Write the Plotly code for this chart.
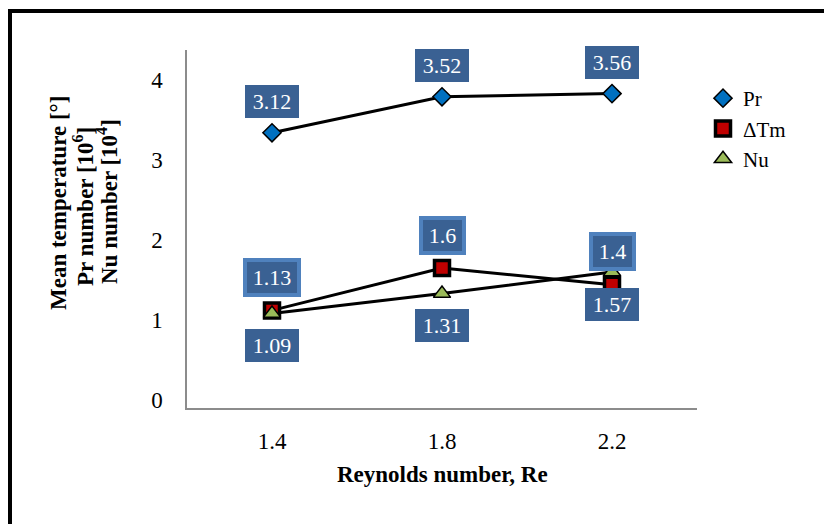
import plotly.graph_objects as go

# ---- data ----
categories = ["1.4", "1.8", "2.2"]
pr_values = [3.34, 3.79, 3.83]
dtm_values = [1.12, 1.65, 1.44]
nu_values = [1.08, 1.33, 1.60]
pr_labels = ["3.12", "3.52", "3.56"]
dtm_labels = ["1.13", "1.6", "1.4"]
nu_labels = ["1.09", "1.31", "1.57"]
y_ticks = [0, 1, 2, 3, 4]
y_title_lines = ["Mean temperature [°]", "Pr number [10<sup>6</sup>]", "Nu number [10<sup>4</sup>]"]
x_title = "Reynolds number, Re"

FONT = "Liberation Serif, Times New Roman, serif"
FS = 23
BOX = "#3A6193"
LIGHT = "#4F81BD"

# page body margin offset (8px)
OFF = 8
# plot area in page pixels
L, R, T, B = 187, 697, 50, 408
W, H = 832 - OFF, 524 - OFF
def px(x):
    return (x - L) / (R - L)
def py(y):
    return (B - y) / (B - T)

fig = go.Figure()

# lines (no legend)
for vals in (pr_values, dtm_values, nu_values):
    fig.add_trace(go.Scatter(x=categories, y=vals, mode="lines",
                             line=dict(color="black", width=3),
                             showlegend=False, hoverinfo="skip"))

# markers
fig.add_trace(go.Scatter(x=categories, y=pr_values, mode="markers", name="Pr",
                         marker=dict(symbol="diamond", size=14, color="#0070C0",
                                     line=dict(color="black", width=1.5))))
fig.add_trace(go.Scatter(x=categories, y=dtm_values, mode="markers", name="ΔTm",
                         marker=dict(symbol="square", size=15, color="#C00000",
                                     line=dict(color="black", width=3.5))))
fig.add_trace(go.Scatter(x=categories, y=nu_values, mode="markers", name="Nu",
                         marker=dict(symbol="triangle-up", size=15, color="#9BBB59",
                                     line=dict(color="black", width=1.5))))

annotations = []
def label(i, y, text, shift, light):
    if light:
        w = 50 if len(text) >= 4 else 39
        annotations.append(dict(x=i, y=y, xref="x", yref="y", text=text, showarrow=False,
                                yshift=shift, bgcolor=BOX, bordercolor=LIGHT, borderwidth=4,
                                borderpad=0, width=w, height=31,
                                font=dict(family=FONT, size=FS - 1, color="white")))
    else:
        annotations.append(dict(x=i, y=y, xref="x", yref="y", text=text, showarrow=False,
                                yshift=shift, bgcolor=BOX, borderwidth=0, borderpad=0,
                                width=54, height=33,
                                font=dict(family=FONT, size=FS - 1, color="white")))

for i, (v, t) in enumerate(zip(pr_values, pr_labels)):
    label(i, v, t, 31, False)
for i, (v, t) in enumerate(zip(dtm_values, dtm_labels)):
    label(i, v, t, 33, True)
for i, (v, t) in enumerate(zip(nu_values, nu_labels)):
    label(i, v, t, -32, False)

# axis titles
annotations.append(dict(x=0.5, y=py(475), xref="paper", yref="paper",
                        text="<b>" + x_title + "</b>", showarrow=False,
                        xanchor="center", yanchor="middle",
                        font=dict(family=FONT, size=FS, color="black")))
for xc, yc, line in zip([58, 83, 107], [203, 207, 202], y_title_lines):
    annotations.append(dict(x=px(xc), y=py(yc), xref="paper", yref="paper",
                            text="<b>" + line + "</b>",
                            showarrow=False, textangle=-90, xanchor="center", yanchor="middle",
                            font=dict(family=FONT, size=FS, color="black")))

shapes = [
    dict(type="line", xref="paper", yref="paper", x0=px(9.5), x1=px(9.5),
         y0=py(11), y1=py(560), line=dict(color="black", width=5)),
    dict(type="line", xref="paper", yref="paper", x0=px(7), x1=px(870),
         y0=py(11), y1=py(11), line=dict(color="black", width=4)),
]

fig.update_layout(
    width=W, height=H,
    margin=dict(l=L - OFF, r=832 - R, t=T - OFF, b=524 - B, autoexpand=False),
    paper_bgcolor="white", plot_bgcolor="white",
    font=dict(family=FONT, size=FS, color="black"),
    showlegend=True,
    legend=dict(x=px(703), y=py(78), xanchor="left", yanchor="top",
                font=dict(family=FONT, size=21, color="black"),
                bgcolor="rgba(0,0,0,0)", tracegroupgap=0),
    annotations=annotations,
    shapes=shapes,
)
fig.update_xaxes(type="category", range=[-0.5, 2.5], showgrid=False, zeroline=False,
                 showline=True, linecolor="#8C8C8C", linewidth=1.5, ticks="",
                 ticklabelstandoff=12, tickfont=dict(family=FONT, size=FS))
fig.update_yaxes(range=[-0.1, 4.375], tickvals=y_ticks, showgrid=False, zeroline=False,
                 showline=True, linecolor="#8C8C8C", linewidth=1.5, ticks="",
                 ticklabelstandoff=18, tickfont=dict(family=FONT, size=FS))

fig.write_html("out.html")
